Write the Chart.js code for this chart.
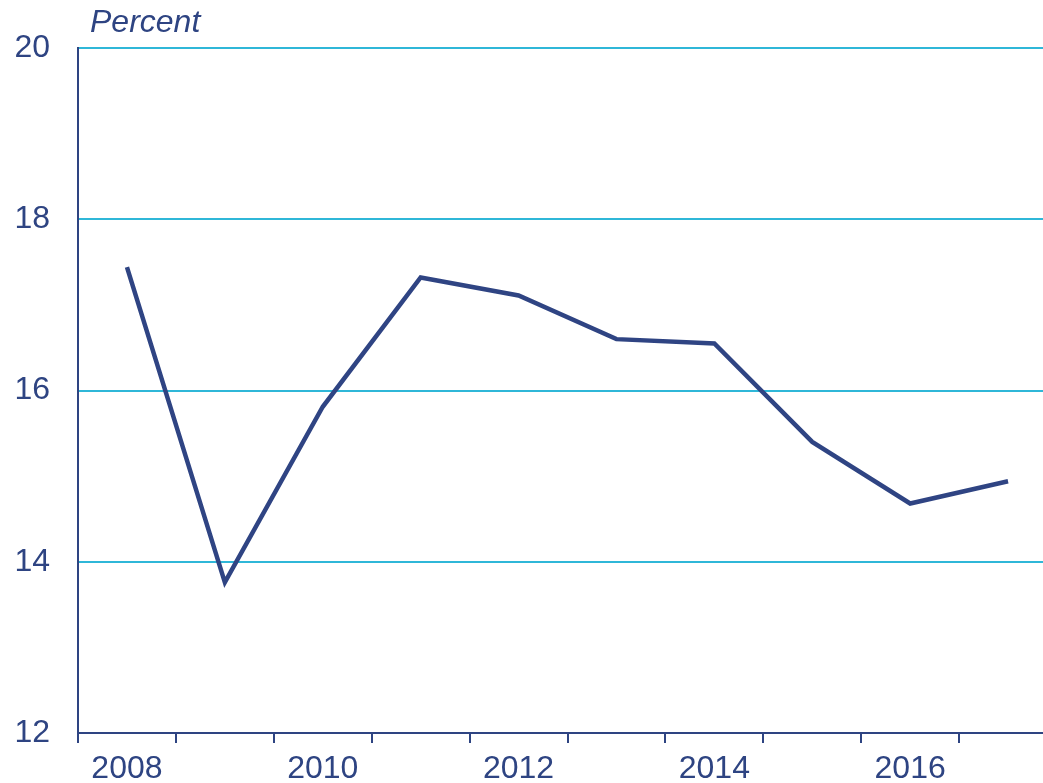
<!DOCTYPE html>
<html>
<head>
<meta charset="utf-8">
<script src="https://cdn.jsdelivr.net/npm/chart.js@4"></script>
<style>
  html, body { margin: 0; padding: 0; background: #fff; overflow: hidden; }
  #wrap { position: relative; width: 1043px; height: 783px; overflow: hidden; }
  #unit { position: absolute; left: 90px; top: 3px; font: italic 32px "Liberation Sans", Arial, sans-serif; color: #2e4482; }
</style>
</head>
<body>
<div id="wrap">
  <canvas id="chart" width="1057" height="783"></canvas>
  <div id="unit">Percent</div>
</div>
<script>
// years on the x axis
const years = ['2008', '2009', '2010', '2011', '2012', '2013', '2014', '2015', '2016', '2017'];
// percent values
const values = [17.44, 13.76, 15.81, 17.32, 17.11, 16.60, 16.55, 15.40, 14.68, 14.94];
const yTicks = [12, 14, 16, 18, 20];

const navy = '#2e4482';
const cyan = '#2fb7d8';

new Chart(document.getElementById('chart'), {
  type: 'line',
  data: {
    labels: years,
    datasets: [{
      data: values,
      borderColor: '#2f4483',
      borderWidth: 4.5,
      pointRadius: 0,
      tension: 0,
      fill: false
    }]
  },
  options: {
    responsive: false,
    animation: false,
    devicePixelRatio: 1,
    layout: { padding: { top: 48, right: 0, left: 0, bottom: 0 } },
    plugins: { legend: { display: false }, tooltip: { enabled: false } },
    scales: {
      x: {
        offset: true,
        border: { color: navy, width: 2 },
        grid: { offset: true, drawOnChartArea: false, color: navy, lineWidth: 2, tickLength: 10 },
        ticks: {
          autoSkip: false,
          maxRotation: 0,
          color: navy,
          padding: 7,
          font: { family: '"Liberation Sans", Arial, sans-serif', size: 32 },
          callback: (v, i) => (i % 2 === 0 ? years[i] : '')
        },
        afterFit: s => { s.height = 50; }
      },
      y: {
        min: 12,
        max: 20,
        afterBuildTicks: s => { s.ticks = yTicks.map(v => ({ value: v })); },
        border: { color: navy, width: 2 },
        grid: {
          drawTicks: false,
          lineWidth: 2,
          color: c => (c.tick.value === 12 ? 'rgba(0,0,0,0)' : cyan)
        },
        ticks: {
          color: navy,
          padding: 28,
          font: { family: '"Liberation Sans", Arial, sans-serif', size: 32 }
        },
        afterFit: s => { s.width = 78; }
      }
    }
  }
});
</script>
</body>
</html>
